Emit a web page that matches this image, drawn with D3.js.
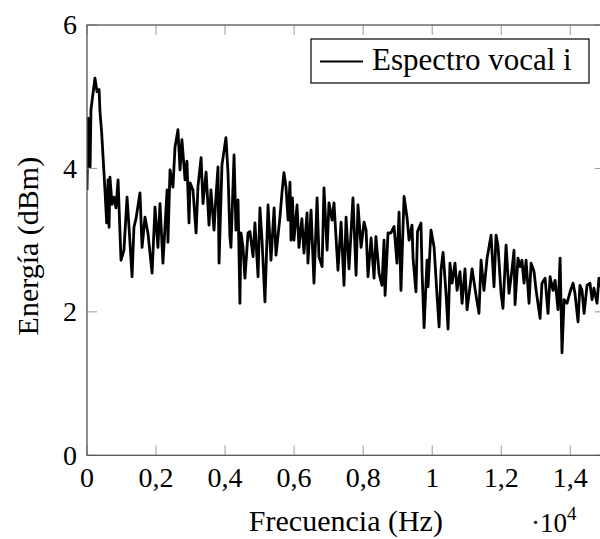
<!DOCTYPE html>
<html>
<head>
<meta charset="utf-8">
<script src="https://cdnjs.cloudflare.com/ajax/libs/d3/7.8.5/d3.min.js"></script>
<style>
  body { margin: 0; background: #fff; }
  svg text { font-family: "Liberation Serif", "Times New Roman", "DejaVu Serif", serif; fill: #000; }
</style>
</head>
<body>
<div id="chart-area"></div>
<script>
// frequency (Hz) and energy (dBm)
const freqs = [0,30,70,90,115,230,290,350,375,425,
  520,570,610,640,665,725,780,840,900,985,
  1070,1160,1215,1305,1360,1420,1535,1595,1680,1765,
  1885,1970,2055,2115,2200,2320,2345,2405,2490,2550,
  2635,2695,2750,2840,2895,2955,2985,3070,3160,3215,
  3305,3360,3450,3535,3590,3680,3735,3795,3825,3910,
  4025,4085,4140,4170,4260,4315,4375,4430,4460,4520,
  4575,4665,4720,4810,4865,4955,5010,5070,5155,5245,
  5330,5420,5475,5590,5650,5705,5765,5825,5880,5910,
  5950,5995,6085,6140,6225,6285,6375,6400,6490,6575,
  6665,6720,6810,6865,6955,7010,7100,7155,7270,7360,
  7445,7505,7590,7705,7795,7850,7940,8025,8085,8140,
  8230,8315,8370,8460,8545,8605,8635,8720,8805,8895,
  8980,9040,9095,9185,9270,9330,9415,9445,9530,9575,
  9675,9705,9765,9850,9880,9965,10055,10140,10200,10255,
  10315,10400,10460,10515,10575,10660,10720,10805,10865,10950,
  11010,11095,11155,11270,11355,11415,11500,11590,11645,11705,
  11790,11850,11905,11995,12050,12140,12225,12310,12370,12400,
  12485,12545,12600,12660,12720,12805,12865,12950,13010,13125,
  13180,13270,13355,13415,13500,13560,13645,13705,13760,13820,
  13905,13995,14080,14135,14225,14280,14340,14400,14485,14570,
  14630,14685,14775,14830,14920,15000]

const energy = [3.70,4.70,4.65,4.02,4.82,5.26,5.07,5.10,4.80,4.50,
  3.70,3.24,3.84,3.18,3.88,3.50,3.60,3.45,3.84,2.72,
  2.86,3.60,3.20,2.49,3.18,3.30,3.66,2.90,3.32,3.10,
  2.54,3.46,2.90,3.51,2.68,3.70,2.97,3.98,3.74,4.30,
  4.54,3.98,4.40,3.84,4.10,3.24,3.80,3.70,3.10,3.75,
  4.15,3.51,3.95,3.21,3.70,3.14,3.60,4.02,2.68,4.05,
  4.43,3.94,3.05,2.90,4.19,3.14,3.56,2.12,3.10,2.90,
  2.47,3.10,3.12,2.77,3.24,2.49,3.45,3.00,2.14,3.49,
  2.72,3.45,2.79,3.32,3.67,3.94,3.74,3.28,3.81,3.00,
  3.59,3.00,3.49,2.90,3.30,2.82,3.38,2.68,3.42,2.40,
  3.59,2.77,2.63,3.73,2.86,3.52,3.28,3.52,2.58,3.25,
  2.37,3.32,2.60,3.59,2.51,3.49,2.90,3.25,3.14,2.49,
  3.03,2.47,3.05,2.54,2.37,3.00,2.23,3.10,3.10,3.19,
  2.68,3.39,2.30,3.61,3.32,3.00,3.21,2.75,2.28,3.12,
  3.24,2.58,1.78,2.72,2.35,3.14,2.90,2.23,1.79,2.58,
  2.83,2.26,1.76,2.68,2.40,2.68,2.30,2.56,2.12,2.60,
  2.03,2.35,2.60,2.23,1.98,2.72,2.30,2.75,2.90,3.07,
  2.35,3.07,2.93,2.26,2.05,2.93,2.26,2.58,2.86,2.10,
  2.75,2.63,2.72,2.40,2.72,2.12,2.68,2.56,2.30,1.91,
  2.40,2.47,1.98,2.49,2.30,2.44,2.03,2.75,1.43,2.17,
  2.12,2.28,2.40,2.26,1.86,2.37,2.30,1.98,2.37,2.40,
  2.17,2.33,2.12,2.47,2.30,2.35]

const xTicks = [0, 2000, 4000, 6000, 8000, 10000, 12000, 14000]
const xTickLabels = ["0", "0,2", "0,4", "0,6", "0,8", "1", "1,2", "1,4"]
const yTicks = [0, 2, 4, 6]
const seriesName = "Espectro vocal i"

let width = 600
let height = 539
let plotLeft = 87, plotRight = 604.8, plotTop = 25, plotBottom = 455.3

let svg = d3.select("#chart-area").append("svg")
  .attr("width", width)
  .attr("height", height)
  .attr("font-family", "Liberation Serif, serif")

let x = d3.scaleLinear().domain([0, 15000]).range([plotLeft, plotRight])
let y = d3.scaleLinear().domain([0, 6]).range([plotBottom, plotTop])

svg.append("clipPath").attr("id", "clip")
  .append("rect")
    .attr("x", plotLeft).attr("y", plotTop)
    .attr("width", plotRight - plotLeft).attr("height", plotBottom - plotTop)

// the spectrum
let points = d3.zip(freqs, energy)
let line = d3.line()
  .x(d => x(d[0]))
  .y(d => y(d[1]))

svg.append("path")
  .datum(points)
  .attr("clip-path", "url(#clip)")
  .attr("fill", "none")
  .attr("stroke", "#000")
  .attr("stroke-width", 2.8)
  .attr("stroke-linejoin", "round")
  .attr("d", line)

// inward ticks on all four sides
let tickLen = 10
let tickColor = "#9a9a9a"
xTicks.forEach(t => {
  svg.append("line").attr("x1", x(t)).attr("x2", x(t))
    .attr("y1", plotBottom).attr("y2", plotBottom - tickLen)
    .attr("stroke", tickColor).attr("stroke-width", 1)
  svg.append("line").attr("x1", x(t)).attr("x2", x(t))
    .attr("y1", plotTop).attr("y2", plotTop + tickLen)
    .attr("stroke", tickColor).attr("stroke-width", 1)
})
yTicks.forEach(t => {
  svg.append("line").attr("x1", plotLeft).attr("x2", plotLeft + tickLen)
    .attr("y1", y(t)).attr("y2", y(t))
    .attr("stroke", tickColor).attr("stroke-width", 1)
  svg.append("line").attr("x1", plotRight).attr("x2", plotRight - tickLen)
    .attr("y1", y(t)).attr("y2", y(t))
    .attr("stroke", tickColor).attr("stroke-width", 1)
})

// axis frame
svg.append("rect")
  .attr("x", plotLeft).attr("y", plotTop)
  .attr("width", plotRight - plotLeft).attr("height", plotBottom - plotTop)
  .attr("fill", "none")
  .attr("stroke", "#555")
  .attr("stroke-width", 1.3)

// tick labels
svg.selectAll(".xlab").data(xTicks).enter()
  .append("text")
    .attr("class", "xlab")
    .attr("x", d => x(d))
    .attr("y", 487)
    .attr("text-anchor", "middle")
    .style("font-size", "28px")
    .text((d, i) => xTickLabels[i])

svg.selectAll(".ylab").data(yTicks).enter()
  .append("text")
    .attr("class", "ylab")
    .attr("x", 77)
    .attr("y", d => y(d))
    .attr("dy", "0.33em")
    .attr("text-anchor", "end")
    .style("font-size", "28px")
    .text(d => d)

// axis titles
svg.append("text")
  .attr("x", (plotLeft + plotRight) / 2)
  .attr("y", 531)
  .attr("text-anchor", "middle")
  .style("font-size", "30px")
  .text("Frecuencia (Hz)")

svg.append("text")
  .attr("transform", "translate(38," + ((plotTop + plotBottom) / 2 + 6) + ") rotate(-90)")
  .attr("text-anchor", "middle")
  .style("font-size", "30px")
  .text("Energía (dBm)")

let scaleLabel = svg.append("text")
  .attr("x", 531)
  .attr("y", 532)
  .style("font-size", "27px")
scaleLabel.append("tspan").text("·10")
scaleLabel.append("tspan")
  .attr("dy", -12)
  .style("font-size", "19px")
  .text("4")

// legend
let legend = svg.append("g")
legend.append("rect")
  .attr("x", 311).attr("y", 39)
  .attr("width", 278).attr("height", 44)
  .attr("fill", "#fff")
  .attr("stroke", "#000")
  .attr("stroke-width", 1.2)
legend.append("line")
  .attr("x1", 320).attr("x2", 363)
  .attr("y1", 61.5).attr("y2", 61.5)
  .attr("stroke", "#000")
  .attr("stroke-width", 2)
legend.append("text")
  .attr("x", 372)
  .attr("y", 70)
  .style("font-size", "31px")
  .text(seriesName)
</script>
</body>
</html>
